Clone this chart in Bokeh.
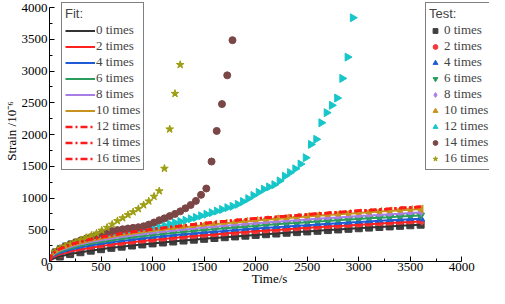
import numpy as np
from bokeh.plotting import figure
from bokeh.models import Range1d, Legend, LegendItem, FixedTicker
from bokeh.embed import file_html
from bokeh.resources import INLINE

# ---------------- data ----------------
t_grid = [100, 200, 300, 400, 500, 600, 700, 800, 900, 1000, 1100, 1200, 1300, 1400,
          1500, 1600, 1700, 1800, 1900, 2000, 2100, 2200, 2300, 2400, 2500, 2600,
          2700, 2800, 2900, 3000, 3100, 3200, 3300, 3400, 3500, 3600]

test_0 = [79, 117, 146, 171, 194, 215, 234, 252, 269, 285, 300, 315, 330, 344, 357, 370, 383, 395,
          407, 419, 430, 441, 453, 463, 474, 484, 495, 505, 515, 524, 534, 544, 553, 562, 571, 580]
test_2 = [112, 156, 190, 218, 243, 266, 286, 305, 323, 340, 356, 371, 386, 400, 414, 427, 440, 452,
          464, 476, 487, 498, 509, 519, 530, 540, 550, 560, 569, 579, 588, 597, 606, 615, 623, 632]
test_4 = [135, 184, 221, 252, 278, 302, 324, 344, 362, 380, 397, 412, 428, 442, 456, 469, 482, 495,
          507, 519, 530, 541, 552, 563, 573, 584, 594, 603, 613, 622, 632, 641, 650, 658, 667, 675]
test_6 = [152, 206, 246, 278, 307, 332, 355, 377, 396, 415, 433, 449, 465, 481, 495, 509, 523, 536,
          549, 561, 574, 585, 597, 608, 619, 629, 640, 650, 660, 670, 680, 689, 698, 708, 717, 725]
test_8 = [171, 229, 271, 306, 336, 363, 387, 410, 430, 450, 468, 486, 503, 518, 534, 548, 563, 576,
          590, 603, 615, 627, 639, 651, 662, 673, 684, 694, 704, 715, 725, 734, 744, 753, 763, 772]
test_10 = [181, 243, 288, 325, 358, 387, 413, 437, 459, 480, 500, 519, 537, 554, 570, 586, 601, 616,
           630, 644, 657, 671, 683, 696, 708, 720, 731, 743, 754, 765, 775, 786, 796, 807, 816, 826]

t_fast = [51, 101, 152, 203, 254, 304, 355, 406, 456, 507, 558, 608, 659, 710, 761, 811, 862, 913,
          963, 1014, 1065, 1115, 1166, 1217, 1268, 1318, 1369, 1420, 1470, 1521, 1572, 1622, 1673,
          1724, 1775, 1825, 1876, 1927, 1977, 2028, 2079, 2129, 2180, 2231, 2282, 2332, 2383, 2434,
          2484, 2535, 2586, 2636, 2687, 2738, 2789, 2839, 2890, 2941]
test_12 = [140, 195, 235, 265, 290, 312, 332, 352, 370, 387, 402, 417, 430, 443, 456, 468, 480, 492,
           503, 515, 540, 565, 590, 610, 630, 650, 672, 695, 720, 745, 770, 795, 820, 848, 870,
           900, 945, 990, 1040, 1090, 1140, 1175, 1210, 1270, 1345, 1400, 1460, 1535, 1635, 1845,
           1925, 2185, 2345, 2460, 2575, 2885, 3220, 3840]
test_14 = [150, 200, 240, 275, 305, 335, 360, 385, 410, 445, 462, 480, 495, 508, 520, 530, 540, 555,
           582, 615, 650, 680, 715, 750, 790, 838, 890, 955, 1050, 1150, 1575, 2057, 2480, 2933, 3487]
test_16 = [150, 205, 240, 272, 305, 340, 375, 410, 445, 490, 535, 585, 640, 685, 735, 780, 830, 890,
           950, 1025, 1110, 1465, 2085, 2645, 3100]

fit_t_start = [0, 20, 50]
fit_0_start = [0, 32, 54]
fit_2_start = [0, 51, 80]
fit_4_start = [0, 66, 99]
fit_6_start = [0, 75, 112]
fit_8_start = [0, 87, 127]
fit_10_start = [0, 91, 135]
fit_hi_start = [0, 102, 149]
fit_hi = [198, 263, 311, 350, 383, 413, 440, 465, 487, 509, 529, 549, 567, 584, 601, 617, 633, 648,
          662, 676, 690, 703, 716, 729, 741, 753, 765, 776, 788, 799, 809, 820, 830, 841, 851, 861]

labels = ["0 times", "2 times", "4 times", "6 times", "8 times", "10 times",
          "12 times", "14 times", "16 times"]
x_ticks = [0, 500, 1000, 1500, 2000, 2500, 3000, 3500, 4000]
y_ticks = [0, 500, 1000, 1500, 2000, 2500, 3000, 3500, 4000]

# ---------------- figure ----------------
SERIF = "Liberation Serif"
SANS = "Liberation Sans"

# frame spans the whole area right/top so the legends are not clipped;
# the axes themselves are bounded to 0..4000
p = figure(width=489, height=288, output_backend="svg", toolbar_location=None,
           x_range=Range1d(0, 4268), y_range=Range1d(0, 4112),
           min_border_left=43, min_border_right=0, min_border_top=0, min_border_bottom=0,
           background_fill_color="white", border_fill_color="white")
p.outline_line_color = None
p.xgrid.visible = False
p.ygrid.visible = False

for ax, ticks in ((p.xaxis, x_ticks), (p.yaxis, y_ticks)):
    minor = [(a + b) / 2 for a, b in zip(ticks[:-1], ticks[1:])]
    ax.ticker = FixedTicker(ticks=ticks, minor_ticks=minor)
    ax.bounds = (0, 4000)
    ax.major_tick_in = 5
    ax.major_tick_out = 0
    ax.minor_tick_in = 3
    ax.minor_tick_out = 0
    ax.axis_line_color = "black"
    ax.major_tick_line_color = "black"
    ax.minor_tick_line_color = "black"
    ax.major_label_text_font = SERIF
    ax.major_label_text_font_size = "13px"
    ax.major_label_text_color = "black"
    ax.axis_label_text_font = SERIF
    ax.axis_label_text_font_size = "13px"
    ax.axis_label_text_font_style = "normal"
    ax.axis_label_text_color = "black"
p.xaxis.major_label_standoff = 1
p.xaxis.axis_label_standoff = -3
p.yaxis.major_label_standoff = 2
p.yaxis.axis_label_standoff = 0

p.xaxis.axis_label = "Time/s"
p.yaxis.axis_label = "Strain /10⁻⁶"

# ---------------- test markers ----------------
test_specs = [
    (t_grid, test_0, "square", "#3f3f3f", 7, 0),
    (t_grid, test_2, "circle", "#f23a3a", 7, 0),
    (t_grid, test_4, "triangle", "#2158d8", 8, 0),
    (t_grid, test_6, "inverted_triangle", "#2a9d5c", 8, 0),
    (t_grid, test_8, "diamond", "#a77ee6", 8, 0),
    (t_grid, test_10, "triangle", "#c8921e", 8, np.pi / 2),
    (t_fast, test_12, "triangle", "#17c6c9", 8, -np.pi / 2),
    (t_fast, test_14, "circle", "#7b4646", 7, 0),
    (t_fast, test_16, "star", "#9e9e12", 8, 0),
]
test_items = []
for (tx, ty, mk, col, sz, ang), lab in zip(test_specs, labels):
    tx = tx[:len(ty)]
    r = p.scatter(tx, ty, marker=mk, size=sz, angle=ang, fill_color=col, line_color=col)
    test_items.append(LegendItem(label=lab, renderers=[r]))

# ---------------- fit lines ----------------
fit_t = fit_t_start + t_grid
fit_specs = [
    (fit_0_start + test_0, "#333333", 2, "solid"),
    (fit_2_start + test_2, "#ff2020", 2, "solid"),
    (fit_4_start + test_4, "#1f5bd6", 2, "solid"),
    (fit_6_start + test_6, "#2a9d5c", 2, "solid"),
    (fit_8_start + test_8, "#a77ee6", 2, "solid"),
    (fit_10_start + test_10, "#c8921e", 2, "solid"),
    (fit_hi_start + fit_hi, "#ff1a1a", 2.5, "7 3 2 3"),
    (fit_hi_start + fit_hi, "#ff1a1a", 2.5, "7 3 2 3"),
    (fit_hi_start + fit_hi, "#ff1a1a", 2.5, "7 3 2 3"),
]
fit_items = []
for (fy, col, lw, dash), lab in zip(fit_specs, labels):
    r = p.line(fit_t, fy, line_color=col, line_width=lw, line_dash=dash)
    fit_items.append(LegendItem(label=lab, renderers=[r]))


def make_legend(items, title, loc, glyph_w, standoff):
    return Legend(items=items, location=loc, title=title,
                  title_text_font=SANS, title_text_font_size="13px",
                  title_text_font_style="normal", title_standoff=1,
                  label_text_font=SERIF, label_text_font_size="13px",
                  glyph_width=glyph_w, glyph_height=13, label_height=13,
                  label_standoff=standoff, spacing=0, padding=3, margin=0,
                  border_line_color="black", border_line_width=1,
                  background_fill_color="white", background_fill_alpha=1)


p.add_layout(make_legend(fit_items, "Fit:", (12, 91), 30, 1))
p.add_layout(make_legend(test_items, "Test:", (376, 91), 12, 3))

open("out.html", "w").write(file_html(p, INLINE))
